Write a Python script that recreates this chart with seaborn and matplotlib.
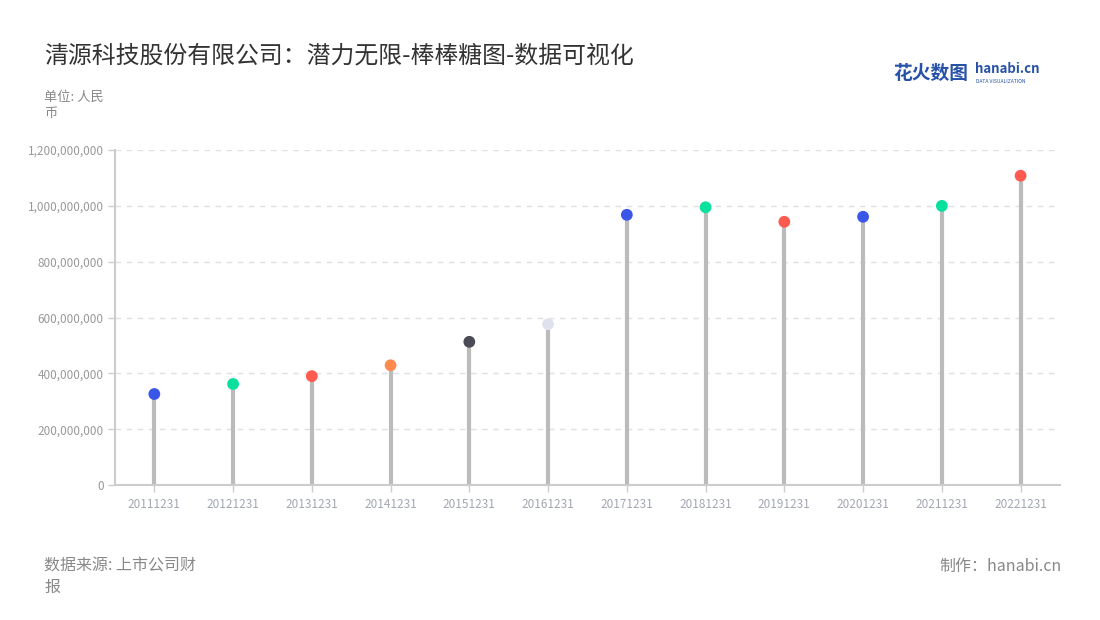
import matplotlib
matplotlib.use('Agg')
import matplotlib.pyplot as plt
import matplotlib.ticker as mticker
import numpy as np
import pandas as pd
import seaborn as sns

dates = ['20111231', '20121231', '20131231', '20141231', '20151231', '20161231',
         '20171231', '20181231', '20191231', '20201231', '20211231', '20221231']
values = [326e6, 362e6, 390e6, 429e6, 513e6, 576e6,
          968e6, 995e6, 943e6, 961e6, 1000e6, 1108e6]
dot_colors = ['#3a56e8', '#0ae09e', '#ff5a50', '#ff8a4e', '#4b4b55', '#dde2ec',
              '#3a56e8', '#0ae09e', '#ff5a50', '#3a56e8', '#0ae09e', '#ff5a50']
y_ticks = [0, 200e6, 400e6, 600e6, 800e6, 1000e6, 1200e6]

sns.set_theme(style='white')
plt.rcParams['font.family'] = ['Noto Sans CJK SC', 'DejaVu Sans']

df = pd.DataFrame({'date': dates, 'value': values, 'pos': np.arange(len(dates))})

fig = plt.figure(figsize=(11, 6.2), dpi=100)
ax = fig.add_axes([0.1045, 0.2177, 0.8591, 0.5403])

# stems
ax.vlines(df['pos'], 0, df['value'], color='#bbbbbb', linewidth=3, zorder=2)
# heads
sns.scatterplot(df, x='pos', y='value', hue='date', palette=dot_colors, s=72,
                edgecolor='none', legend=False, ax=ax, zorder=3)

ax.set_xlim(-0.5, len(dates) - 0.5)
ax.set_ylim(0, 1200e6)
ax.set_yticks(y_ticks)
ax.yaxis.set_major_formatter(mticker.FuncFormatter(lambda v, p: f'{int(v):,}'))
ax.set_xticks(df['pos'])
ax.set_xticklabels(dates)
ax.set_xlabel('')
ax.set_ylabel('')

ax.grid(axis='y', color='#e0e0e0', linestyle=(0, (4, 4)), linewidth=1, zorder=0)
ax.set_axisbelow(True)
for s in ['top', 'right']:
    ax.spines[s].set_visible(False)
for s in ['left', 'bottom']:
    ax.spines[s].set_color('#cccccc')
    ax.spines[s].set_linewidth(1.5)
ax.tick_params(axis='x', colors='#cccccc', labelcolor='#a3a7b3', labelsize=8.5,
               length=5, width=1, pad=4, bottom=True)
ax.tick_params(axis='y', colors='#cccccc', labelcolor='#999999', labelsize=8.5,
               length=5, width=1, pad=3, left=True)

fig.text(0.04, 0.91, '清源科技股份有限公司：潜力无限-棒棒糖图-数据可视化',
         fontsize=17.2, color='#333333', va='center', ha='left')
fig.text(0.04, 0.83, '单位: 人民\n币', fontsize=9.5, color='#888888',
         va='center', ha='left', linespacing=1.4)
fig.text(0.04, 0.07, '数据来源: 上市公司财\n报', fontsize=11.5, color='#888888',
         va='center', ha='left', linespacing=1.4)
fig.text(0.965, 0.086, '制作：hanabi.cn', fontsize=11.5, color='#888888',
         va='center', ha='right')

# logo
fig.text(0.812, 0.882, '花火数图', fontsize=13.5, color='#2752a8', fontweight='bold',
         va='center', ha='left')
fig.text(0.886, 0.888, 'hanabi.cn', fontsize=9.5, color='#2752a8', fontweight='bold',
         va='center', ha='left')
fig.text(0.887, 0.869, 'DATA VISUALIZATION', fontsize=3.6, color='#2752a8',
         va='center', ha='left')

fig.savefig('out.png', dpi=100)
